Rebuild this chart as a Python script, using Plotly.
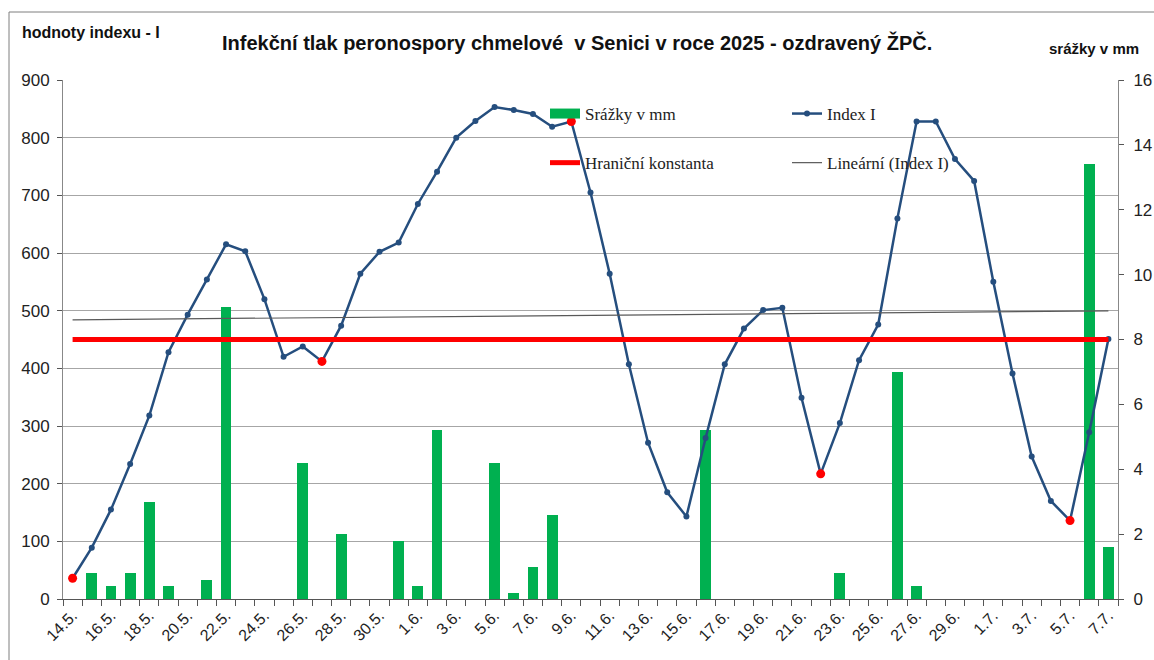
import plotly.graph_objects as go
import numpy as np

# ---------------- data ----------------
dates = ["14.5.", "15.5.", "16.5.", "17.5.", "18.5.", "19.5.", "20.5.", "21.5.", "22.5.", "23.5.",
         "24.5.", "25.5.", "26.5.", "27.5.", "28.5.", "29.5.", "30.5.", "31.5.", "1.6.", "2.6.",
         "3.6.", "4.6.", "5.6.", "6.6.", "7.6.", "8.6.", "9.6.", "10.6.", "11.6.", "12.6.",
         "13.6.", "14.6.", "15.6.", "16.6.", "17.6.", "18.6.", "19.6.", "20.6.", "21.6.", "22.6.",
         "23.6.", "24.6.", "25.6.", "26.6.", "27.6.", "28.6.", "29.6.", "30.6.", "1.7.", "2.7.",
         "3.7.", "4.7.", "5.7.", "6.7.", "7.7."]

index_I = [36, 89, 155, 234, 318, 428, 493, 554, 615, 603,
           520, 420, 438, 412, 474, 564, 602, 618, 685, 741,
           800, 829, 853, 848, 841, 819, 828, 705, 564, 407,
           271, 185, 143, 279, 407, 469, 501, 505, 349, 217,
           305, 414, 476, 660, 828, 828, 763, 725, 550, 391,
           247, 170, 136, 289, 451]

rain_mm = [0, 0.8, 0.4, 0.8, 3.0, 0.4, 0, 0.6, 9.0, 0,
           0, 0, 4.2, 0, 2.0, 0, 0, 1.8, 0.4, 5.2,
           0, 0, 4.2, 0.2, 1.0, 2.6, 0, 0, 0, 0,
           0, 0, 0, 5.2, 0, 0, 0, 0, 0, 0,
           0.8, 0, 0, 7.0, 0.4, 0, 0, 0, 0, 0,
           0, 0, 0, 13.4, 1.6]

red_dates = ["14.5.", "27.5.", "9.6.", "22.6.", "5.7."]
limit_const = 450

# ---------------- layout geometry ----------------
W, H = 1154, 660
L, R, T, B = 63, 36, 80, 61


def px_x(px):
    return (px - L) / (W - L - R)


def px_y(py):
    return (H - B - py) / (H - T - B)


x = list(range(len(dates)))
red_x = [dates.index(d) for d in red_dates]
red_y = [index_I[i] for i in red_x]
coef = np.polyfit(x, index_I, 1)
trend = np.polyval(coef, x)

BLUE = "#254E7E"
GREEN = "#00B050"
RED = "#FF0000"
SANS = "Liberation Sans, Arial, sans-serif"
SERIF = "Liberation Serif, Times New Roman, serif"

fig = go.Figure()
fig.add_trace(go.Bar(x=x, y=rain_mm, name="Srážky v mm", width=0.56,
                     marker=dict(color=GREEN, line=dict(width=0)),
                     yaxis="y", showlegend=False))
# legend entry for the bars (rectangular key like the original)
fig.add_trace(go.Scatter(x=[None], y=[None], name="Srážky v mm", mode="lines",
                         line=dict(color=GREEN, width=14),
                         yaxis="y", legend="legend", legendgroup="g1"))
fig.add_trace(go.Scatter(x=x, y=index_I, name="Index I", mode="lines+markers",
                         line=dict(color=BLUE, width=2.5),
                         marker=dict(size=6, color=BLUE),
                         yaxis="y2", legend="legend2", legendgroup="g2"))
fig.add_trace(go.Scatter(x=x, y=[limit_const] * len(x), name="Hraniční konstanta",
                         mode="lines", line=dict(color=RED, width=5),
                         yaxis="y2", legend="legend", legendgroup="g3"))
fig.add_trace(go.Scatter(x=x, y=trend, name="Lineární (Index I)", mode="lines",
                         line=dict(color="#595959", width=1.2),
                         yaxis="y2", legend="legend2", legendgroup="g4"))
fig.add_trace(go.Scatter(x=red_x, y=red_y, mode="markers", showlegend=False,
                         marker=dict(size=9, color=RED), yaxis="y2"))

fig.update_layout(
    width=W, height=H,
    margin=dict(l=L, r=R, t=T, b=B, pad=0, autoexpand=False),
    paper_bgcolor="white", plot_bgcolor="white",
    font=dict(family=SANS, size=16, color="#222"),
    bargap=0,
    xaxis=dict(range=[-0.5, len(dates) - 0.5], tickmode="array", automargin=False,
               tickvals=x[::2], ticktext=dates[::2], tickangle=-45,
               ticks="", showgrid=False, zeroline=False,
               showline=True, linecolor="#555", linewidth=1,
               tickfont=dict(family=SANS, size=16, color="#222"),
               minor=dict(tickmode="linear", tick0=-0.5, dtick=1, ticks="outside",
                          ticklen=6, tickcolor="#555", tickwidth=1, showgrid=False)),
    yaxis=dict(range=[0, 16], dtick=2, side="right", showgrid=False, zeroline=False,
               automargin=False,
               showline=True, linecolor="#888", ticks="outside", ticklen=5,
               tickcolor="#555", ticklabelstandoff=6,
               tickfont=dict(family=SANS, size=17, color="#222")),
    yaxis2=dict(range=[0, 900], dtick=100, side="left", overlaying="y",
                automargin=False,
                showgrid=True, gridcolor="#A6A6A6", gridwidth=1, zeroline=False,
                showline=True, linecolor="#888", ticks="outside", ticklen=5,
                tickcolor="#555", ticklabelstandoff=4,
                tickfont=dict(family=SANS, size=17, color="#222")),
    legend=dict(x=px_x(545), y=px_y(96), xanchor="left", yanchor="top",
                bgcolor="rgba(0,0,0,0)", font=dict(family=SERIF, size=17, color="#222"),
                tracegroupgap=24, itemwidth=30),
    legend2=dict(x=px_x(787), y=px_y(96), xanchor="left", yanchor="top",
                 bgcolor="rgba(0,0,0,0)", font=dict(family=SERIF, size=17, color="#222"),
                 tracegroupgap=24, itemwidth=30),
    showlegend=True,
    shapes=[dict(type="rect", xref="paper", yref="paper",
                 x0=px_x(9), y0=px_y(12), x1=px_x(1175), y1=px_y(690),
                 line=dict(color="#7F7F7F", width=1), layer="below")],
    annotations=[
        dict(text="<b>hodnoty indexu - I</b>", xref="paper", yref="paper",
             x=px_x(20), y=px_y(32), xanchor="left", yanchor="middle", showarrow=False,
             font=dict(family=SANS, size=16, color="#111")),
        dict(text="<b>Infekční tlak peronospory chmelové  v Senici v roce 2025 - ozdravený ŽPČ.</b>",
             xref="paper", yref="paper", x=px_x(577), y=px_y(42),
             xanchor="center", yanchor="middle", showarrow=False,
             font=dict(family=SANS, size=20, color="#111")),
        dict(text="<b>srážky v mm</b>", xref="paper", yref="paper",
             x=px_x(1141), y=px_y(48), xanchor="right", yanchor="middle", showarrow=False,
             font=dict(family=SANS, size=15, color="#111")),
    ],
)

fig.write_html("out.html", config={"displayModeBar": False},
               post_script="document.body.style.margin='0';")
